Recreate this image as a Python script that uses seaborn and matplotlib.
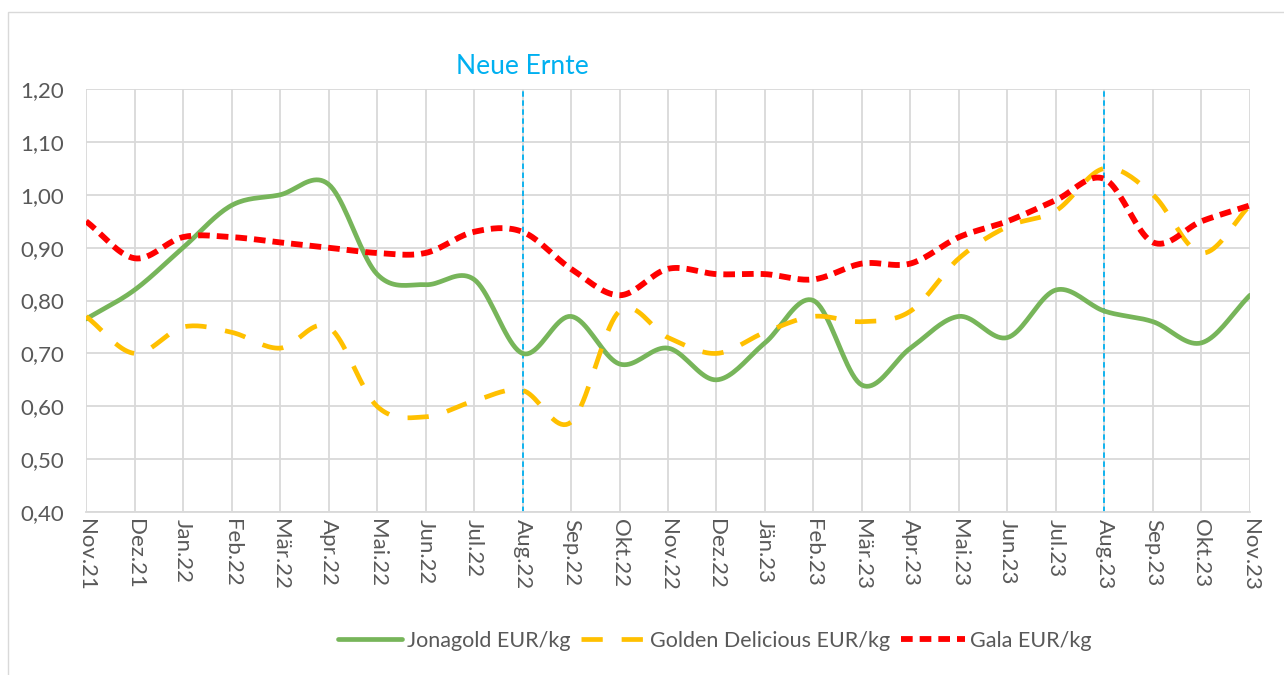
import numpy as np
import pandas as pd
import matplotlib
matplotlib.use("Agg")
import matplotlib.pyplot as plt
import seaborn as sns
from matplotlib.patches import Rectangle

months = ["Nov.21", "Dez.21", "Jan.22", "Feb.22", "Mär.22", "Apr.22", "Mai.22", "Jun.22",
          "Jul.22", "Aug.22", "Sep.22", "Okt.22", "Nov.22", "Dez.22", "Jän.23", "Feb.23",
          "Mär.23", "Apr.23", "Mai.23", "Jun.23", "Jul.23", "Aug.23", "Sep.23", "Okt.23", "Nov.23"]

jonagold = [0.765, 0.82, 0.90, 0.98, 1.00, 1.02, 0.85, 0.83, 0.84, 0.70, 0.77, 0.68, 0.71,
            0.65, 0.72, 0.80, 0.64, 0.71, 0.77, 0.73, 0.82, 0.78, 0.76, 0.72, 0.81]
golden = [0.77, 0.70, 0.75, 0.74, 0.71, 0.75, 0.60, 0.58, 0.61, 0.63, 0.57, 0.78, 0.73,
          0.70, 0.74, 0.77, 0.76, 0.78, 0.88, 0.94, 0.97, 1.05, 1.00, 0.89, 0.98]
gala = [0.95, 0.88, 0.92, 0.92, 0.91, 0.90, 0.89, 0.89, 0.93, 0.93, 0.86, 0.81, 0.86,
        0.85, 0.85, 0.84, 0.87, 0.87, 0.92, 0.95, 0.99, 1.03, 0.91, 0.95, 0.98]

harvest_months = ["Aug.22", "Aug.23"]
yticks = [0.40, 0.50, 0.60, 0.70, 0.80, 0.90, 1.00, 1.10, 1.20]

TEXT = "#595959"
GRID = "#D9D9D9"
BLUE = "#00B0F0"


def smooth(y, steps=20):
    # Catmull-Rom style curve through the points (like Excel's smoothed line)
    y = np.asarray(y, dtype=float)
    n = len(y)
    xs, ys = [], []
    for i in range(n - 1):
        p0 = y[max(i - 1, 0)]
        p1, p2 = y[i], y[i + 1]
        p3 = y[min(i + 2, n - 1)]
        t = np.linspace(0, 1, steps, endpoint=False)
        m1 = (p2 - p0) / 2 if i > 0 else (p2 - p1)
        m2 = (p3 - p1) / 2 if i < n - 2 else (p2 - p1)
        h00 = 2 * t**3 - 3 * t**2 + 1
        h10 = t**3 - 2 * t**2 + t
        h01 = -2 * t**3 + 3 * t**2
        h11 = t**3 - t**2
        xs.append(i + t)
        ys.append(h00 * p1 + h10 * m1 + h01 * p2 + h11 * m2)
    xs.append(np.array([n - 1.0]))
    ys.append(np.array([y[-1]]))
    return np.concatenate(xs), np.concatenate(ys)


sns.set_theme(style="white")
plt.rcParams['font.family'] = ['Lato', 'DejaVu Sans']

fig = plt.figure(figsize=(12.84, 6.75), dpi=100)
ax = fig.add_axes([0.067, 0.2415, 0.9065, 0.6265])

fig.patches.append(Rectangle((8 / 1284, -0.01), 1.0, 1 - 12 / 675 + 0.01, transform=fig.transFigure,
                             fill=False, edgecolor=GRID, linewidth=1.0))

series = [
    ("Jonagold EUR/kg", jonagold, "#77B55A", (None, None), 3.4),
    ("Golden Delicious EUR/kg", golden, "#FFC000", (4.5, 4.0), 3.4),
    ("Gala EUR/kg", gala, "#FF0000", (2.0, 1.2), 4.2),
]

for name, vals, color, dash, lw in series:
    sx, sy = smooth(vals)
    df = pd.DataFrame({"x": sx, "y": sy})
    sns.lineplot(data=df, x="x", y="y", ax=ax, color=color, linewidth=lw, label=name, sort=False)
    if dash[0] is not None:
        ax.lines[-1].set_dashes(dash)
    ax.lines[-1].set_solid_capstyle("round")
    ax.lines[-1].set_dash_capstyle("butt")

for m in harvest_months:
    ax.axvline(months.index(m), color=BLUE, linestyle=(0, (3, 2)), linewidth=1.3, zorder=1)

ax.text(months.index("Aug.22"), 1.22, "Neue Ernte", color=BLUE, fontsize=19,
        ha="center", va="bottom")

ax.set_xlim(0, len(months) - 1)
ax.set_ylim(0.40, 1.20)
ax.set_xticks(range(len(months)))
ax.set_xticklabels(months, rotation=-90, color=TEXT, fontsize=16)
ax.set_yticks(yticks)
ax.set_yticklabels([f"{v:.2f}".replace(".", ",") for v in yticks], color=TEXT, fontsize=16)
ax.tick_params(axis="x", pad=5, length=0)
ax.tick_params(axis="y", pad=16, length=0)
ax.grid(True, color=GRID, linewidth=1.3)
ax.set_axisbelow(True)
for side in ["top", "left", "right"]:
    ax.spines[side].set_visible(False)
ax.spines["bottom"].set_color(GRID)
ax.spines["bottom"].set_linewidth(1.3)
ax.set_xlabel("")
ax.set_ylabel("")

leg = ax.legend(loc="center", bbox_to_anchor=(0.540, -0.305), ncol=3, frameon=False,
                fontsize=15.5, handlelength=3.0, handletextpad=0.2, columnspacing=0.5)
for t in leg.get_texts():
    t.set_color(TEXT)

fig.savefig("out.png", dpi=100)
